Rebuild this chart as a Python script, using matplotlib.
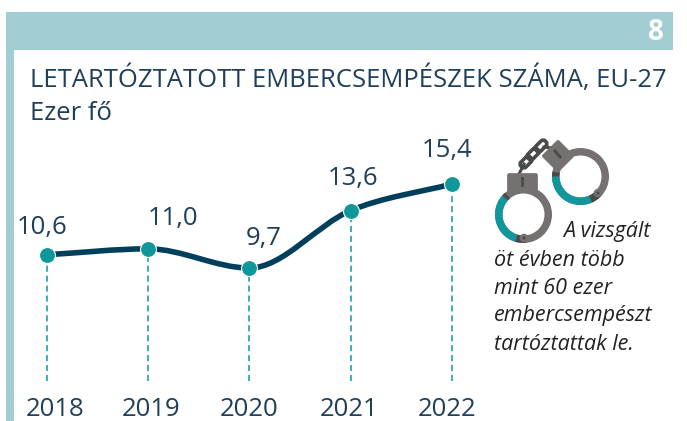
import matplotlib
matplotlib.use("Agg")
import matplotlib.pyplot as plt
from matplotlib.patches import Rectangle, Wedge, Circle, FancyBboxPatch, PathPatch
from matplotlib.path import Path
from matplotlib.transforms import Affine2D
import numpy as np

years = [2018, 2019, 2020, 2021, 2022]
values = [10.6, 11.0, 9.7, 13.6, 15.4]
value_labels = ["10,6", "11,0", "9,7", "13,6", "15,4"]
year_labels = ["2018", "2019", "2020", "2021", "2022"]
title = "LETARTÓZTATOTT EMBERCSEMPÉSZEK SZÁMA, EU-27"
subtitle = "Ezer fő"
note = ["A vizsgált", "öt évben több", "mint 60 ezer", "embercsempészt", "tartóztattak le."]
page = "8"

W, H = 687, 421
plt.rcParams["font.family"] = ["Open Sans", "DejaVu Sans"]
NAVY = "#1F3F5B"; LINE = "#003F5C"; TEAL = "#0F979C"; BAND = "#A2CDD3"; GREY = "#767171"; DARK = "#4A4A4A"

fig = plt.figure(figsize=(W/100, H/100), dpi=100, facecolor="white")
deco = fig.add_axes([0, 0, 1, 1]); deco.set_xlim(0, W); deco.set_ylim(H, 0); deco.axis("off")

# header frame
deco.add_patch(Rectangle((6, 12), 667, 38, color=BAND, lw=0))
deco.add_patch(Rectangle((6, 12), 8, H-12, color=BAND, lw=0))
deco.text(656, 32, page, color="white", fontsize=20, fontweight="bold", ha="center", va="center")
deco.text(30, 79, title, color=NAVY, fontsize=18.45, ha="left", va="center")
deco.text(30, 113, subtitle, color=NAVY, fontsize=18.45, ha="left", va="center")

# chart in data coordinates
ax = fig.add_axes([0, 0, 1, 1]); ax.axis("off"); ax.patch.set_alpha(0)
x_of = lambda px: 2018 + (px-47)/101.25
y_of = lambda py: 9.7 + (268-py)/14.74
ax.set_xlim(x_of(0), x_of(W)); ax.set_ylim(y_of(H), y_of(0))

base = y_of(381)
ax.vlines(years, base, values, color=TEAL, lw=1.1, linestyles=(0, (4, 2.5)), zorder=1)

# smooth line with Bezier segments through the data points
xs = np.array(years, float); ys = np.array(values, float)
slopes = np.gradient(ys, xs)
slopes[1] = 0.0; slopes[2] = 0.0
verts = [(xs[0], ys[0])]; codes = [Path.MOVETO]
for i in range(len(xs)-1):
    d = (xs[i+1]-xs[i])/3
    verts += [(xs[i]+d, ys[i]+slopes[i]*d), (xs[i+1]-d, ys[i+1]-slopes[i+1]*d), (xs[i+1], ys[i+1])]
    codes += [Path.CURVE4]*3
ax.add_patch(PathPatch(Path(verts, codes), fc="none", ec=LINE, lw=4, capstyle="round", zorder=2))
ax.plot(years, values, "o", ms=11.5, mfc=TEAL, mec="white", mew=0.8, zorder=3)

lab_dx = [-5, 25, 14, 2, -5]
lab_dy = [27, 30, 30, 32, 33]
for y, v, s, dx, dy in zip(years, values, value_labels, lab_dx, lab_dy):
    ax.annotate(s, (y, v), xytext=(dx*0.72, dy*0.72), textcoords="offset points",
                ha="center", va="center", color=NAVY, fontsize=18.5)
tick_dx = [8, 3, 0, -2, -5]
for y, s, dx in zip(years, year_labels, tick_dx):
    ax.annotate(s, (y, base), xytext=(dx*0.72, -34.5*0.72), textcoords="offset points",
                ha="center", va="baseline", color=NAVY, fontsize=18.5)

# handcuffs icon
def ring(cx, cy, r, a1, a2, color, w=7.5, z=5):
    # angles measured in the inverted pixel axes
    deco.add_patch(Wedge((cx, cy), r, a1, a2, width=w, color=color, lw=0, zorder=z))

def chain():
    for (cx, cy) in [(526, 162), (533, 154), (541, 146)]:
        deco.add_patch(FancyBboxPatch((cx-6, cy-3), 12, 6, boxstyle="round,pad=0.5,rounding_size=3",
                       fc="none", ec=DARK, lw=2.6,
                       transform=Affine2D().rotate_deg_around(cx, cy, -45)+deco.transData, zorder=4))
    deco.plot([519, 524], [174, 164], color=DARK, lw=2.2, zorder=4)
    deco.plot([544, 552], [147, 148], color=DARK, lw=2.2, zorder=4)
chain()

# left cuff
ring(523.5, 214.5, 28.5, 0, 360, GREY)
ring(523.5, 214.5, 28.5, 107, 222, TEAL)
ring(523.5, 214.5, 28.5, 85, 107, DARK, z=6)
ring(523.5, 214.5, 28.5, 222, 230, DARK, z=6)
deco.add_patch(FancyBboxPatch((508, 174), 29, 17.5, boxstyle="round,pad=0.5,rounding_size=2", fc=GREY, ec=GREY, lw=0.5, zorder=6))
deco.plot([522, 522], [178, 185], color=DARK, lw=2, zorder=7)
deco.add_patch(Circle((524, 238), 4.3, color=GREY, lw=0, zorder=7))
deco.add_patch(Circle((524, 238), 1.5, color=DARK, lw=0, zorder=8))
# right cuff
ring(580.5, 176.5, 28.5, 0, 360, GREY)
ring(580.5, 176.5, 28.5, 66, 180, TEAL)
ring(580.5, 176.5, 28.5, 45, 66, DARK, z=6)
ring(580.5, 176.5, 28.5, 180, 190, DARK, z=6)
deco.add_patch(FancyBboxPatch((547, 145), 22, 22, boxstyle="round,pad=0.5,rounding_size=2", fc=GREY, ec=GREY, lw=0.5,
               transform=Affine2D().rotate_deg_around(558, 156, 45)+deco.transData, zorder=6))
deco.plot([555, 560], [151, 157], color=DARK, lw=2, zorder=7)
deco.add_patch(Circle((598, 193), 4.3, color=GREY, lw=0, zorder=7))
deco.add_patch(Circle((598, 193), 1.5, color=DARK, lw=0, zorder=8))

# note
note_x = [563, 494, 494, 494, 494]
note_y = [231, 260, 288, 316, 344]
for s, nx, ny in zip(note, note_x, note_y):
    deco.text(nx, ny, s, ha="left", va="center", color="#222222", fontsize=15.5, style="italic")

fig.savefig("out.png", dpi=100)
